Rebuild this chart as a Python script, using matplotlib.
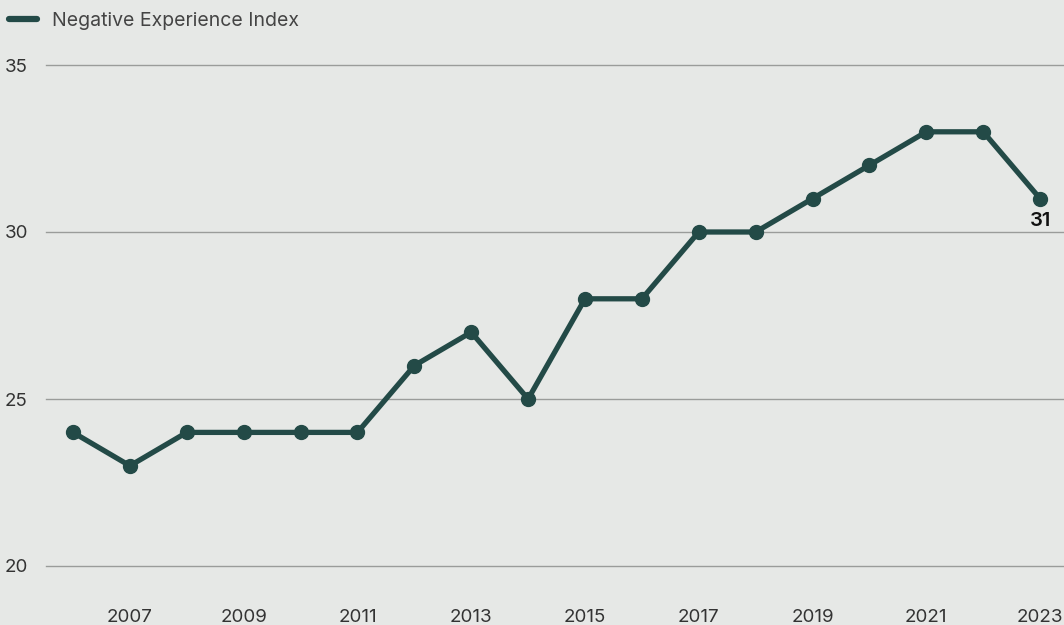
import matplotlib
matplotlib.use("Agg")
import matplotlib.pyplot as plt
from matplotlib.lines import Line2D

years = list(range(2006, 2024))
index_values = [24, 23, 24, 24, 24, 24, 26, 27, 25, 28, 28, 30, 30, 31, 32, 33, 33, 31]
y_ticks = [20, 25, 30, 35]
x_ticks = list(range(2007, 2024, 2))
series_name = "Negative Experience Index"

bg = "#e6e8e6"
line_color = "#234a47"
text_color = "#333333"

plt.rcParams['font.family'] = ['Inter', 'DejaVu Sans']

fig = plt.figure(figsize=(10.64, 6.25), dpi=100, facecolor=bg)
ax = fig.add_axes([46 / 1064, 1 - 566 / 625, 1 - 46 / 1064, (566 - 65) / 625])
ax.set_facecolor(bg)

ax.plot(years, index_values, color=line_color, lw=3.8, marker='o', ms=10,
        solid_joinstyle='round', clip_on=False, zorder=3)

ax.set_xlim(2005.525, 2023.42)
ax.set_ylim(20, 35)

ax.set_yticks(y_ticks)
ax.set_yticklabels([str(v) for v in y_ticks], ha='left')
ax.tick_params(axis='y', length=0, pad=29.5, labelsize=13.5, labelcolor=text_color)
ax.set_xticks(x_ticks)
ax.tick_params(axis='x', length=0, pad=31, labelsize=13.5, labelcolor=text_color)

ax.grid(axis='y', color='#9a9c9a', lw=1)
ax.grid(axis='x', visible=False)
for gl in ax.yaxis.get_gridlines():
    gl.set_clip_on(False)
for s in ax.spines.values():
    s.set_visible(False)

# label on the last point
ax.annotate(str(index_values[-1]), (years[-1], index_values[-1]), xytext=(0, -10),
            textcoords='offset points', ha='center', va='top', fontsize=14.5,
            fontweight='semibold', color='#111111')

handle = Line2D([], [], color=line_color, lw=4.5, solid_capstyle='round')
fig.legend([handle], [series_name], loc='upper left',
           bbox_to_anchor=(9 / 1064, 1 - 12 / 625), borderaxespad=0, borderpad=0,
           frameon=False, fontsize=14, handlelength=1.45, handletextpad=0.75,
           labelcolor='#444444')

fig.savefig("out.png", dpi=100, facecolor=bg)
